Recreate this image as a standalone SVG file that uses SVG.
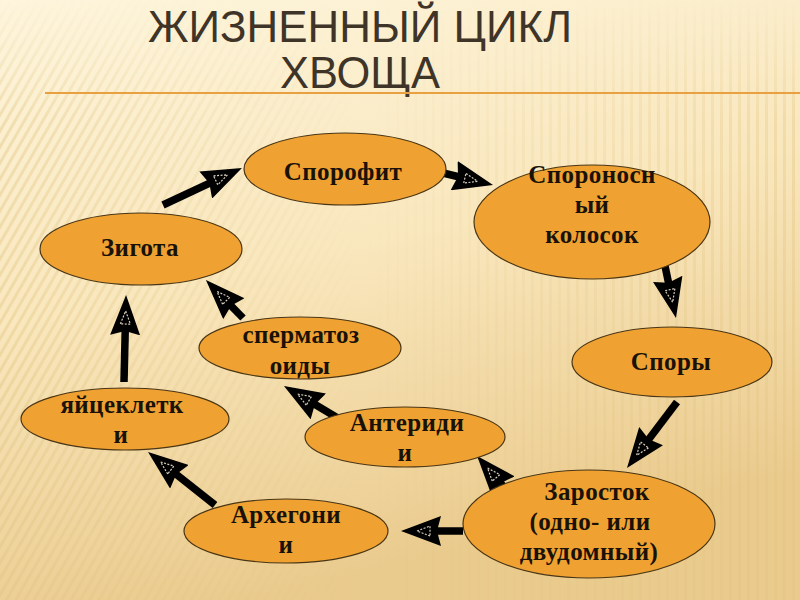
<svg xmlns="http://www.w3.org/2000/svg" width="800" height="600" viewBox="0 0 800 600">
<defs>
<linearGradient id="bg" x1="0" y1="0" x2="0.3" y2="1">
<stop offset="0" stop-color="#fdf5dc"/>
<stop offset="0.5" stop-color="#f9e7bd"/>
<stop offset="1" stop-color="#eacb8e"/>
</linearGradient>
<pattern id="diag" width="8" height="8" patternUnits="userSpaceOnUse" patternTransform="rotate(30)">
<rect width="3" height="8" fill="#e2c27f" opacity="0.4"/>
</pattern>
<pattern id="vert" width="9" height="10" patternUnits="userSpaceOnUse">
<rect width="3" height="10" fill="#e2c27f" opacity="0.35"/>
</pattern>
<linearGradient id="fadeL" x1="0" y1="0" x2="1" y2="0">
<stop offset="0" stop-color="#fff" stop-opacity="1"/>
<stop offset="0.45" stop-color="#fff" stop-opacity="0"/>
</linearGradient>
<linearGradient id="fadeR" x1="0" y1="0" x2="1" y2="0">
<stop offset="0.45" stop-color="#fff" stop-opacity="0"/>
<stop offset="1" stop-color="#fff" stop-opacity="1"/>
</linearGradient>
<linearGradient id="fadeT" x1="0" y1="0" x2="0" y2="1">
<stop offset="0" stop-color="#fff" stop-opacity="0"/>
<stop offset="0.2" stop-color="#fff" stop-opacity="1"/>
</linearGradient>
<mask id="mT"><rect width="800" height="600" fill="url(#fadeT)"/></mask>
<mask id="mL"><rect width="800" height="600" fill="url(#fadeL)"/></mask>
<mask id="mR"><rect width="800" height="600" fill="url(#fadeR)"/></mask>
<marker id="ah" viewBox="0 0 40 30" markerWidth="40" markerHeight="30" refX="12" refY="15" orient="auto" markerUnits="userSpaceOnUse">
<path d="M0,0 L40,15 L0,30 L4,15 z" fill="#000"/>
<path d="M11,10 L24,15 L11,20 z" fill="none" stroke="#d8d0c0" stroke-width="1.2" stroke-dasharray="2,1.5"/>
</marker>
</defs>
<style>
.node ellipse { fill: #efa232; stroke: #4a3515; stroke-width: 1.2; }
.node text { font-family: "Liberation Serif", "DejaVu Serif", serif; font-size: 25px; font-weight: bold; letter-spacing: 0.4px; fill: #1a1208; text-anchor: middle; }
.title { font-family: "Liberation Sans", Arial, sans-serif; font-size: 45px; fill: #3f3428; }
#connectors path { fill: none; stroke: #000; stroke-width: 7.5; marker-end: url(#ah); }
</style>
<rect width="800" height="600" fill="url(#bg)"/>
<g mask="url(#mT)">
<rect width="800" height="600" fill="url(#diag)" mask="url(#mL)"/>
<rect width="800" height="600" fill="url(#vert)" mask="url(#mR)"/>
</g>

<g id="title">
<text class="title"><tspan x="148" y="42" textLength="424" lengthAdjust="spacingAndGlyphs">ЖИЗНЕННЫЙ ЦИКЛ</tspan><tspan x="280" y="88" textLength="160" lengthAdjust="spacingAndGlyphs">ХВОЩА</tspan></text>
<line x1="45" y1="93" x2="800" y2="93" stroke="#e8a040" stroke-width="2"/>
</g>

<g id="connectors">
<path d="M163,205 L216.6,179.9"/>
<path d="M443,173 L465.8,178.5"/>
<path d="M665,266 L670.2,290.6"/>
<path d="M677,402 L643.9,445.7"/>
<path d="M510,494 L495.4,477.1"/>
<path d="M463,531 L429,531"/>
<path d="M215,505 L170,469.4"/>
<path d="M124,382 L125.4,323"/>
<path d="M346,423 L308,400.3"/>
<path d="M243,318 L225.5,300.1"/>
</g>

<g id="sporofit" class="node">
<ellipse cx="345" cy="169" rx="101" ry="36"/>
<text x="343" y="180">Спорофит</text>
</g>
<g id="sporonosny" class="node">
<ellipse cx="592" cy="222" rx="118" ry="57"/>
<text x="592" y="183">Спороносн</text>
<text x="592" y="213">ый</text>
<text x="592" y="243">колосок</text>
</g>
<g id="zigota" class="node">
<ellipse cx="141" cy="249" rx="101" ry="36"/>
<text x="140" y="256">Зигота</text>
</g>
<g id="spermatozoidy" class="node">
<ellipse cx="300" cy="348" rx="101" ry="31"/>
<text x="301" y="343">сперматоз</text>
<text x="300" y="374">оиды</text>
</g>
<g id="spory" class="node">
<ellipse cx="672" cy="362" rx="100" ry="35"/>
<text x="671" y="370">Споры</text>
</g>
<g id="yaytsekletki" class="node">
<ellipse cx="125" cy="419" rx="104" ry="31"/>
<text x="122" y="413">яйцеклетк</text>
<text x="121" y="443">и</text>
</g>
<g id="anteridii" class="node">
<ellipse cx="405" cy="437" rx="100" ry="30"/>
<text x="407" y="431">Антериди</text>
<text x="405" y="461">и</text>
</g>
<g id="zarostok" class="node">
<ellipse cx="589" cy="524" rx="126" ry="54"/>
<text x="597" y="500">Заросток</text>
<text x="590" y="530">(одно- или</text>
<text x="589" y="560">двудомный)</text>
</g>
<g id="arhegonii" class="node">
<ellipse cx="286" cy="531" rx="102" ry="32"/>
<text x="286" y="523">Архегони</text>
<text x="286" y="553">и</text>
</g>
</svg>
